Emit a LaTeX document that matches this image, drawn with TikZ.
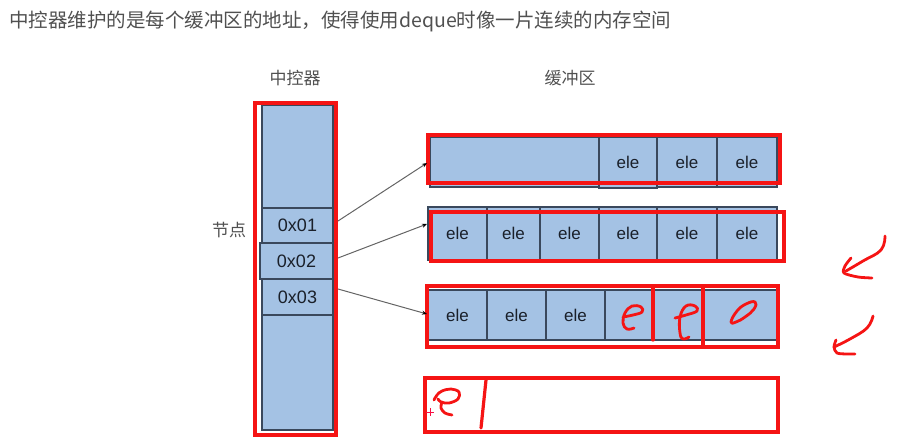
\documentclass[tikz,border=0pt]{standalone}
\usepackage{fontspec}
\setmainfont{Liberation Sans}
\newfontfamily\cjk{Noto Sans CJK SC}
\usetikzlibrary{arrows.meta}

\definecolor{cellblue}{RGB}{164,194,228}
\definecolor{celledge}{RGB}{58,72,92}
\definecolor{ink}{RGB}{26,32,42}
\definecolor{pen}{RGB}{245,20,20}
\definecolor{caption}{RGB}{80,80,80}
\definecolor{linkgray}{RGB}{100,100,100}

\begin{document}
\begin{tikzpicture}[x=1pt,y=-1pt,
  cell/.style={draw=celledge, fill=cellblue, line width=1.2pt, anchor=north west,
    inner sep=0pt, outer sep=0pt, text=ink, font=\fontsize{17}{17}\selectfont},
  addr/.style={cell, font=\fontsize{18}{18}\selectfont},
  markbox/.style={draw=pen, line width=3.4pt, anchor=north west, inner sep=0pt, outer sep=0pt},
  label/.style={text=caption, font=\cjk\fontsize{17}{17}\selectfont, inner sep=0pt},
  link/.style={draw=linkgray, line width=1pt, -{Stealth[length=5pt,width=4pt,color=black]}},
  ink stroke/.style={draw=pen, line width=2.8pt, line cap=round, line join=round}]

\useasboundingbox (0,0) rectangle (910,442);

% heading
\node[label, anchor=west, font=\cjk\fontsize{19.5}{19.5}\selectfont] (title) at (9,21)
  {中控器维护的是每个缓冲区的地址，使得使用deque时像一片连续的内存空间};

% column labels
\node[label] (ctrltitle) at (295,78) {中控器};
\node[label] (buftitle) at (570,78) {缓冲区};
\node[label] (nodetitle) at (229,230) {节点};

% central controller
\node[cell, minimum width=71pt, minimum height=325pt] (ctrl) at (262,105) {};
\node[addr, minimum width=71pt, minimum height=35pt] (n1) at (262,208) {0x01};
\node[addr, minimum width=73pt, minimum height=36pt] (n2) at (260,243) {0x02};
\node[addr, minimum width=71pt, minimum height=36pt] (n3) at (262,279) {0x03};
\node[markbox, minimum width=81pt, minimum height=332pt] (ctrlmark) at (255,103) {};

% buffer 1
\node[cell, minimum width=169pt, minimum height=50pt] (r1a) at (430,137) {};
\node[cell, minimum width=58pt, minimum height=51pt] (r1b) at (599,137) {ele};
\node[cell, minimum width=60pt, minimum height=50pt] (r1c) at (657,137) {ele};
\node[cell, minimum width=60pt, minimum height=50pt] (r1d) at (717,137) {ele};
\node[markbox, minimum width=352pt, minimum height=48pt] (r1mark) at (428,135) {};

% buffer 2
\node[cell, minimum width=59pt, minimum height=53pt] (r2a) at (428,207) {ele};
\node[cell, minimum width=53pt, minimum height=53pt] (r2b) at (487,207) {ele};
\node[cell, minimum width=59pt, minimum height=53pt] (r2c) at (540,207) {ele};
\node[cell, minimum width=58pt, minimum height=53pt] (r2d) at (599,207) {ele};
\node[cell, minimum width=60pt, minimum height=53pt] (r2e) at (657,207) {ele};
\node[cell, minimum width=60pt, minimum height=53pt] (r2f) at (717,207) {ele};
\node[markbox, minimum width=353pt, minimum height=49pt] (r2mark) at (431,212) {};

% buffer 3
\node[cell, minimum width=59pt, minimum height=50pt] (r3a) at (428,290) {ele};
\node[cell, minimum width=59pt, minimum height=50pt] (r3b) at (487,290) {ele};
\node[cell, minimum width=59pt, minimum height=50pt] (r3c) at (546,290) {ele};
\node[cell, minimum width=48pt, minimum height=50pt] (r3d) at (605,290) {};
\node[cell, minimum width=50pt, minimum height=50pt] (r3e) at (653,290) {};
\node[cell, minimum width=74pt, minimum height=50pt] (r3f) at (703,290) {};
\node[markbox, minimum width=351pt, minimum height=61pt] (r3mark) at (427,286) {};

% buffer 4 (empty)
\node[markbox, minimum width=353pt, minimum height=54pt] (r4mark) at (425,378) {};

% pointers from the controller into the buffers
\coordinate (s1) at (338,221);
\coordinate (s2) at (338,258);
\coordinate (s3) at (338,289);
\coordinate (t1) at (427,163);
\coordinate (t2) at (427,224);
\coordinate (t3) at (427,314);
\draw[link] (s1) -- (t1);
\draw[link] (s2) -- (t2);
\draw[link] (s3) -- (t3);

% pen strokes: dividers
\draw[ink stroke, line width=3.2pt] (653,287) -- (653,340);
\draw[ink stroke, line width=3.2pt] (703,287) -- (703,346);
\draw[ink stroke, line width=3.2pt] (486,380) -- (481,428);

% pen strokes: written elements
\draw[ink stroke] plot[smooth, tension=0.7] coordinates
  {(623,317) (633,315) (642,312) (641,307) (632,306) (625,313) (623,323) (627,329) (634,328)};
\draw[ink stroke] plot[smooth, tension=0.7] coordinates
  {(675,318) (686,315) (697,311) (695,306) (686,306) (680,317) (680,333) (683,339) (689,337)};
\draw[ink stroke] plot[smooth cycle, tension=0.8] coordinates
  {(731,322) (737,311) (746,304) (755,302) (754,309) (745,317) (736,322)};
\draw[ink stroke] plot[smooth, tension=0.6] coordinates
  {(434,400) (437,395) (442,391) (451,389) (459,392) (458,399) (449,403) (441,402) (438,399)};
\draw[ink stroke] plot[smooth, tension=0.6] coordinates
  {(442,402) (441,408) (445,413) (452,415)};
\draw[draw=pen!80!magenta, line width=1pt] (426,412) -- (434,412) (430,408) -- (430,416);

% pen strokes: arrows at the right
\draw[ink stroke] plot[smooth, tension=0.7] coordinates
  {(885,236) (881,250) (863,261) (846,271)};
\draw[ink stroke] plot[smooth, tension=0.5] coordinates
  {(851,258) (845,266) (844,273) (858,277) (872,278)};
\draw[ink stroke] plot[smooth, tension=0.7] coordinates
  {(873,316) (867,328) (850,339) (834,347)};
\draw[ink stroke] plot[smooth, tension=0.5] coordinates
  {(836,340) (834,347) (837,353) (847,354) (855,354)};
\end{tikzpicture}
\end{document}
